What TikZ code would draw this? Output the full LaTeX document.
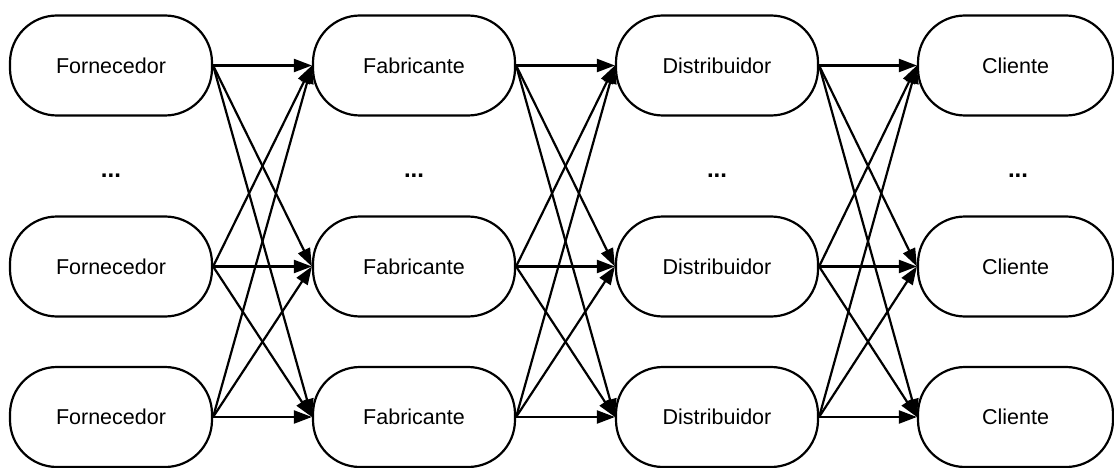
\documentclass[tikz,border=0pt]{standalone}
\usepackage{fontspec}
\setmainfont{Liberation Sans}
\usetikzlibrary{arrows.meta}
\begin{document}
\begin{tikzpicture}[x=1pt,y=-1pt,
  box/.style={draw, line width=2.2pt, rounded corners=47pt, minimum width=202pt, minimum height=100pt, inner sep=0pt, font=\fontsize{21.5}{26}\selectfont},
  dots/.style={font=\fontsize{24}{28}\selectfont\bfseries},
  link/.style={line width=2.2pt, -{Triangle[length=18pt,width=13pt]}}]
\useasboundingbox (0,0) rectangle (1114,468);
\node[box] (a1) at (111,65.5) {Fornecedor};
\node[box] (a2) at (111,266.5) {Fornecedor};
\node[box] (a3) at (111,417) {Fornecedor};
\node[box] (b1) at (414,65.5) {Fabricante};
\node[box] (b2) at (414,266.5) {Fabricante};
\node[box] (b3) at (414,417) {Fabricante};
\node[box] (c1) at (717,65.5) {Distribuidor};
\node[box] (c2) at (717,266.5) {Distribuidor};
\node[box] (c3) at (717,417) {Distribuidor};
\node[box, minimum width=195pt] (d1) at (1015.5,65.5) {Cliente};
\node[box, minimum width=195pt] (d2) at (1015.5,266.5) {Cliente};
\node[box, minimum width=195pt] (d3) at (1015.5,417) {Cliente};
\node[dots] (e1) at (111,176) {...};
\node[dots] (e2) at (414,176) {...};
\node[dots] (e3) at (717,176) {...};
\node[dots] (e4) at (1018,176) {...};
\foreach \s/\t in {a/b,b/c,c/d}{
  \foreach \i in {1,2,3}{
    \foreach \j in {1,2,3}{
      \draw[link] (\s\i.east) -- (\t\j.west);
    }
  }
}
\end{tikzpicture}
\end{document}
